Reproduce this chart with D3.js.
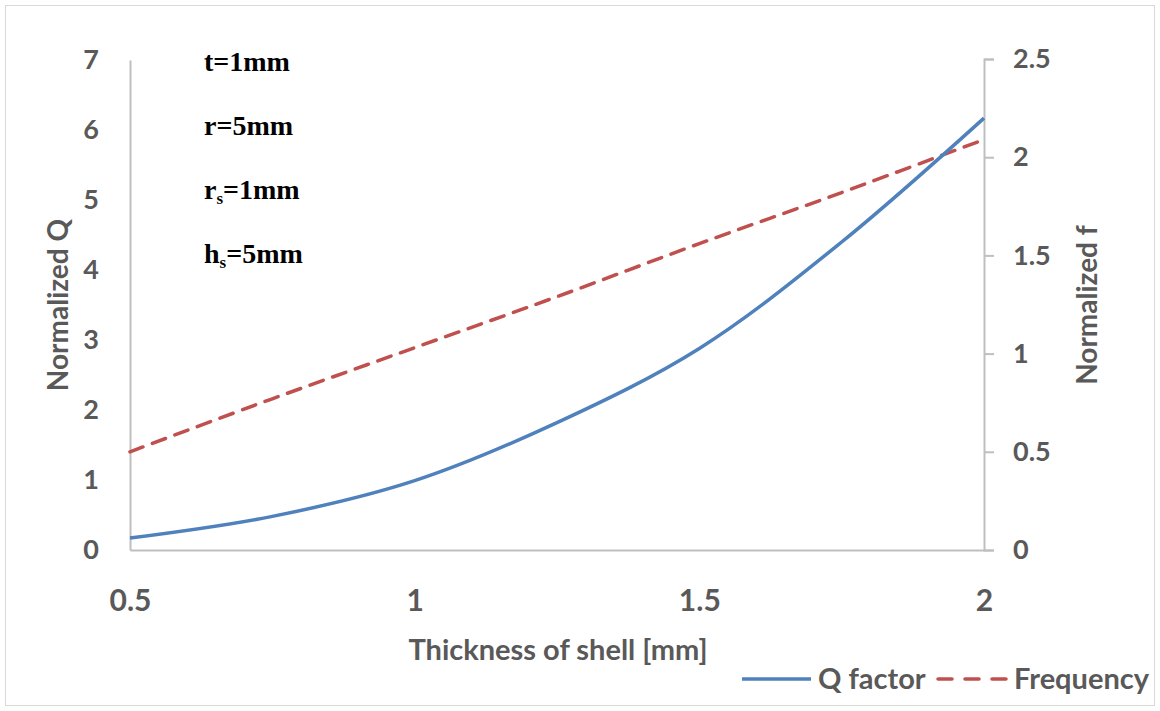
<!DOCTYPE html>
<html>
<head>
<meta charset="utf-8">
<script src="https://cdn.jsdelivr.net/npm/d3@7"></script>
<style>
  body { margin: 0; background: #fff; }
  svg { display: block; }
</style>
</head>
<body>
<div id="container"></div>
<script>
let width = 1160
let height = 711

margin = ({ top: 60, right: 173, bottom: 161, left: 130 })

// data
const thickness = [0.5, 0.75, 1.0, 1.25, 1.5, 1.75, 2.0]
const qFactor = [0.17, 0.48, 0.99, 1.82, 2.88, 4.4, 6.17]
const frequency = [0.5, 0.77, 1.03, 1.29, 1.56, 1.82, 2.09]

const xTicks = [0.5, 1, 1.5, 2]
const qTicks = [0, 1, 2, 3, 4, 5, 6, 7]
const fTicks = [0, 0.5, 1, 1.5, 2, 2.5]

const labels = [
    { main: "t=1mm", sub: null },
    { main: "r=5mm", sub: null },
    { main: "r", sub: "s", rest: "=1mm" },
    { main: "h", sub: "s", rest: "=5mm" }
]

const grey = "#595959"
const axisGrey = "#bfbfbf"
const font = "Lato, 'Open Sans', sans-serif"

let x = d3.scaleLinear()
    .domain([0.5, 2])
    .range([margin.left, width - margin.right - 3])

let yQ = d3.scaleLinear()
    .domain([0, 7])
    .range([height - margin.bottom, margin.top])

let yF = d3.scaleLinear()
    .domain([0, 2.5])
    .range([height - margin.bottom, margin.top - 1])

let svg = d3.select("#container")
    .append("svg")
    .attr("width", width)
    .attr("height", height)

// chart border
svg.append("rect")
    .attr("x", 5.5).attr("y", 5.5)
    .attr("width", width - 11).attr("height", height - 11)
    .attr("fill", "none")
    .attr("stroke", "#d9d9d9")

// X axis
let xAxis = g => g
    .attr("transform", `translate(0,${height - margin.bottom})`)
    .call(d3.axisBottom(x).tickValues(xTicks).tickSize(0).tickFormat(d3.format("")))
    .call(g => g.select(".domain").attr("stroke", axisGrey).attr("stroke-width", 2))
    .call(g => g.selectAll(".tick text")
        .attr("y", 61).attr("dy", 0)
        .attr("fill", grey)
        .style("font", `bold 30px ${font}`))

// left axis
let yAxisLeft = g => g
    .attr("transform", `translate(${margin.left},0)`)
    .call(d3.axisLeft(yQ).tickValues(qTicks).tickSize(0).tickPadding(31).tickFormat(d3.format("")))
    .call(g => g.select(".domain").attr("stroke", axisGrey).attr("stroke-width", 2))
    .call(g => g.selectAll(".tick text")
        .attr("fill", grey)
        .style("font", `bold 27px ${font}`))

// right axis
let yAxisRight = g => g
    .attr("transform", `translate(${x(2)},0)`)
    .call(d3.axisRight(yF).tickValues(fTicks).tickSizeInner(10).tickSizeOuter(10).tickPadding(19).tickFormat(d3.format("")))
    .call(g => g.select(".domain").attr("stroke", axisGrey).attr("stroke-width", 2))
    .call(g => g.selectAll(".tick line").attr("stroke", axisGrey).attr("stroke-width", 2))
    .call(g => g.selectAll(".tick text")
        .attr("fill", grey)
        .style("font", `bold 27px ${font}`))

svg.append("g").call(xAxis)
svg.append("g").call(yAxisLeft)
svg.append("g").call(yAxisRight)

// axis titles
svg.append("text")
    .attr("x", (margin.left + x(2)) / 2 + 1)
    .attr("y", 660)
    .attr("text-anchor", "middle")
    .attr("fill", grey)
    .style("font", `bold 29px ${font}`)
    .text("Thickness of shell [mm]")

svg.append("text")
    .attr("transform", `translate(68,${(yQ(0) + yQ(7)) / 2}) rotate(-90)`)
    .attr("text-anchor", "middle")
    .attr("fill", grey)
    .style("font", `bold 28px ${font}`)
    .text("Normalized Q")

svg.append("text")
    .attr("transform", `translate(1097,${(yQ(0) + yQ(7)) / 2}) rotate(-90)`)
    .attr("text-anchor", "middle")
    .attr("fill", grey)
    .style("font", `bold 28px ${font}`)
    .text("Normalized f")

// lines
let lineQ = d3.line()
    .x((d, i) => x(thickness[i]))
    .y(d => yQ(d))
    .curve(d3.curveCatmullRom)

let lineF = d3.line()
    .x((d, i) => x(thickness[i]))
    .y(d => yF(d))
    .curve(d3.curveCatmullRom)

svg.append("path")
    .datum(frequency)
    .attr("fill", "none")
    .attr("stroke", "#c0504d")
    .attr("stroke-width", 3.5)
    .attr("stroke-dasharray", "14,10")
    .attr("stroke-linecap", "round")
    .attr("d", lineF)

svg.append("path")
    .datum(qFactor)
    .attr("fill", "none")
    .attr("stroke", "#4f81bd")
    .attr("stroke-width", 3.5)
    .attr("stroke-linejoin", "round")
    .attr("d", lineQ)

// annotations
const ann = svg.append("g")
    .style("font", "bold 28px 'Liberation Serif', 'Times New Roman', serif")
    .attr("fill", "#000")
const annY = [71, 135, 199, 263]
labels.forEach((l, i) => {
    const t = ann.append("text").attr("x", 204).attr("y", annY[i])
    t.append("tspan").text(l.main)
    if (l.sub) {
        t.append("tspan").attr("dy", 5).style("font-size", "17px").text(l.sub)
        t.append("tspan").attr("dy", -5).text(l.rest)
    }
})

// legend
const legend = svg.append("g").attr("transform", "translate(0,679)")
legend.append("line")
    .attr("x1", 742).attr("x2", 811)
    .attr("stroke", "#4f81bd").attr("stroke-width", 3.5)
legend.append("text")
    .attr("x", 818).attr("dy", "0.35em")
    .attr("fill", grey)
    .style("font", `bold 29px ${font}`)
    .text("Q factor")
legend.append("line")
    .attr("x1", 938).attr("x2", 1006)
    .attr("stroke", "#c0504d").attr("stroke-width", 3.5)
    .attr("stroke-dasharray", "14,13")
    .attr("stroke-linecap", "round")
legend.append("text")
    .attr("x", 1014).attr("dy", "0.35em")
    .attr("fill", grey)
    .style("font", `bold 29px ${font}`)
    .text("Frequency")
</script>
</body>
</html>
